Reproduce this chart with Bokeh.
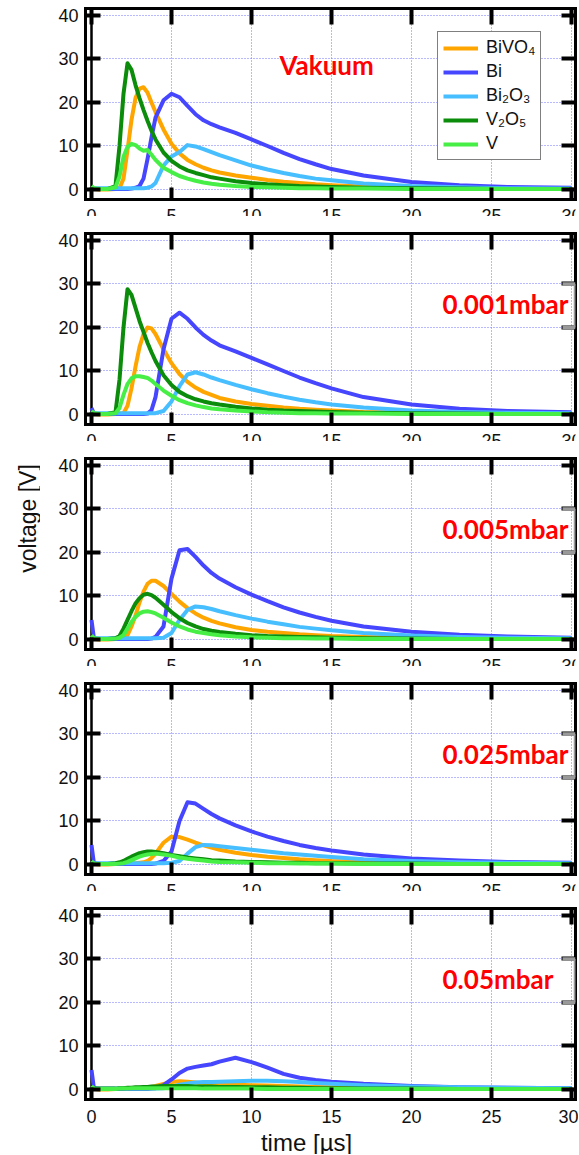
import math
from bokeh.plotting import figure
from bokeh.layouts import column, row
from bokeh.models import (Range1d, LinearAxis, FixedTicker, Span, Label,
                          Legend, LegendItem, Arrow)
from bokeh.core.properties import value
from bokeh.embed import file_html
from bokeh.resources import INLINE

# ---------------- data ----------------
T = [0, 0.15, 0.5, 1.0, 1.5, 1.75, 2.0, 2.25, 2.5, 2.75, 3.0, 3.25, 3.5, 3.75, 4.0,
     4.5, 5.0, 5.5, 6.0, 6.5, 7.0, 7.5, 8.0, 9, 10, 11, 12, 13, 14, 15, 17, 20, 23, 26, 30]

# Vakuum
BIVO4_VAK = [0.2, 0.1, 0.0, 0.0, 0.1, 0.3, 2.5, 9.0, 16.0, 21.0, 23.2, 23.5, 22.3, 20.0, 17.8,
             13.8, 10.5, 8.3, 6.8, 5.8, 5.0, 4.4, 3.9, 3.2, 2.7, 2.2, 1.8, 1.5, 1.2, 1.0, 0.7, 0.4, 0.3, 0.2, 0.1]
BI_VAK = [0.3, 0.2, 0.1, 0.1, 0.1, 0.1, 0.1, 0.1, 0.2, 0.4, 0.8, 2.5, 7.0, 12.0, 16.5,
          20.5, 22.0, 21.2, 19.2, 17.3, 15.9, 15.0, 14.3, 13.0, 11.5, 10.0, 8.4, 7.0, 5.8, 4.7, 3.2, 1.7, 1.0, 0.6, 0.4]
BI2O3_VAK = [0.3, 0.3, 0.3, 0.3, 0.3, 0.3, 0.3, 0.3, 0.3, 0.3, 0.3, 0.3, 0.4, 0.7, 1.5,
             5.5, 7.6, 8.6, 10.2, 9.9, 9.3, 8.6, 7.9, 6.7, 5.5, 4.6, 3.8, 3.1, 2.5, 2.1, 1.4, 0.8, 0.5, 0.3, 0.2]
V2O5_VAK = [0.1, 0.1, 0.1, 0.1, 0.8, 10.0, 22.0, 29.0, 27.5, 24.0, 21.0, 18.3, 15.8, 13.5, 11.5,
            8.5, 6.6, 5.3, 4.4, 3.8, 3.3, 2.8, 2.5, 1.9, 1.5, 1.2, 1.0, 0.8, 0.7, 0.6, 0.4, 0.3, 0.2, 0.1, 0.1]
V_VAK = [0.8, 0.3, 0.1, 0.1, 0.5, 3.0, 7.5, 9.8, 10.5, 10.2, 9.4, 8.9, 9.1, 8.0, 6.8,
         5.0, 4.0, 3.1, 2.5, 2.0, 1.6, 1.3, 1.1, 0.8, 0.6, 0.5, 0.4, 0.3, 0.3, 0.2, 0.2, 0.1, 0.1, 0.1, 0.1]

# 0.001 mbar
BIVO4_P001 = [0.2, 0.1, 0.0, 0.0, 0.1, 0.1, 0.3, 2.0, 6.0, 11.0, 15.5, 18.5, 20.0, 19.8, 18.5,
              15.0, 11.8, 9.3, 7.5, 6.2, 5.2, 4.5, 3.8, 3.0, 2.4, 2.0, 1.6, 1.3, 1.1, 0.9, 0.6, 0.4, 0.3, 0.2, 0.1]
BI_P001 = [1.5, 0.2, 0.1, 0.1, 0.1, 0.1, 0.1, 0.1, 0.1, 0.1, 0.1, 0.1, 0.2, 1.0, 4.0,
           15.0, 22.0, 23.4, 22.0, 20.0, 18.3, 17.0, 15.9, 14.5, 13.0, 11.5, 10.0, 8.5, 7.2, 6.0, 4.0, 2.3, 1.3, 0.8, 0.5]
BI2O3_P001 = [0.3, 0.3, 0.3, 0.3, 0.3, 0.3, 0.3, 0.3, 0.3, 0.3, 0.3, 0.3, 0.3, 0.3, 0.3,
              0.8, 3.0, 6.5, 9.2, 9.7, 9.2, 8.5, 7.9, 6.8, 5.8, 4.9, 4.1, 3.4, 2.8, 2.3, 1.6, 0.9, 0.6, 0.4, 0.3]
V2O5_P001 = [0.1, 0.1, 0.1, 0.1, 0.5, 8.0, 20.0, 28.8, 27.5, 24.5, 21.5, 19.0, 16.5, 14.3, 12.3,
             9.0, 6.8, 5.2, 4.2, 3.5, 3.0, 2.6, 2.3, 1.8, 1.4, 1.1, 0.9, 0.8, 0.7, 0.6, 0.4, 0.3, 0.2, 0.1, 0.1]
V_P001 = [0.8, 0.3, 0.1, 0.1, 0.3, 1.5, 4.5, 7.0, 8.3, 8.8, 8.8, 8.6, 8.4, 7.8, 7.0,
          5.5, 4.3, 3.3, 2.6, 2.1, 1.7, 1.4, 1.2, 0.9, 0.7, 0.5, 0.4, 0.3, 0.3, 0.2, 0.2, 0.1, 0.1, 0.1, 0.1]

# 0.005 mbar
BIVO4_P005 = [0.2, 0.1, 0.0, 0.0, 0.1, 0.1, 0.2, 1.0, 3.0, 5.5, 8.5, 11.0, 12.8, 13.5, 13.5,
              12.3, 10.5, 8.7, 7.2, 6.0, 5.0, 4.3, 3.7, 2.8, 2.2, 1.8, 1.5, 1.2, 1.0, 0.8, 0.6, 0.4, 0.3, 0.2, 0.1]
BI_P005 = [4.5, 0.3, 0.1, 0.1, 0.1, 0.1, 0.1, 0.1, 0.1, 0.1, 0.1, 0.1, 0.1, 0.2, 0.6,
           3.0, 14.0, 20.5, 20.8, 19.0, 17.0, 15.3, 14.0, 12.0, 10.3, 8.8, 7.4, 6.2, 5.2, 4.3, 3.0, 1.8, 1.1, 0.7, 0.4]
BI2O3_P005 = [0.3, 0.3, 0.3, 0.3, 0.3, 0.3, 0.3, 0.3, 0.3, 0.3, 0.3, 0.3, 0.3, 0.3, 0.3,
              0.4, 1.5, 4.5, 6.8, 7.6, 7.4, 7.0, 6.5, 5.6, 4.8, 4.1, 3.5, 2.9, 2.5, 2.1, 1.5, 0.9, 0.6, 0.4, 0.3]
V2O5_P005 = [0.3, 0.1, 0.1, 0.1, 0.3, 0.8, 2.5, 4.5, 6.5, 8.3, 9.5, 10.3, 10.5, 10.2, 9.6,
             8.0, 6.3, 4.9, 3.8, 3.0, 2.4, 2.0, 1.7, 1.3, 1.0, 0.8, 0.7, 0.6, 0.5, 0.4, 0.3, 0.2, 0.1, 0.1, 0.1]
V_P005 = [1.0, 0.3, 0.1, 0.1, 0.2, 0.4, 1.0, 2.5, 4.0, 5.2, 6.0, 6.4, 6.5, 6.3, 6.0,
          5.0, 3.9, 3.0, 2.3, 1.8, 1.5, 1.2, 1.0, 0.7, 0.5, 0.4, 0.3, 0.3, 0.2, 0.2, 0.1, 0.1, 0.1, 0.1, 0.1]

# 0.025 mbar
BIVO4_P025 = [0.2, 0.1, 0.0, 0.0, 0.1, 0.1, 0.1, 0.1, 0.2, 0.3, 0.4, 0.5, 0.8, 1.5, 2.5,
              5.0, 6.4, 6.3, 5.7, 5.0, 4.4, 3.9, 3.4, 2.7, 2.2, 1.8, 1.5, 1.2, 1.0, 0.8, 0.6, 0.4, 0.3, 0.2, 0.1]
BI_P025 = [4.5, 0.3, 0.1, 0.1, 0.1, 0.1, 0.1, 0.1, 0.1, 0.1, 0.1, 0.1, 0.1, 0.1, 0.2,
           0.8, 3.0, 10.0, 14.3, 14.0, 12.8, 11.6, 10.6, 9.0, 7.6, 6.4, 5.4, 4.5, 3.8, 3.2, 2.3, 1.4, 0.9, 0.6, 0.4]
BI2O3_P025 = [0.3, 0.3, 0.3, 0.3, 0.3, 0.3, 0.3, 0.3, 0.3, 0.3, 0.3, 0.3, 0.3, 0.3, 0.3,
              0.3, 0.4, 0.8, 2.5, 4.0, 4.5, 4.4, 4.2, 3.8, 3.4, 3.0, 2.6, 2.3, 2.0, 1.7, 1.2, 0.8, 0.5, 0.4, 0.3]
V2O5_P025 = [0.3, 0.1, 0.1, 0.1, 0.3, 0.5, 0.8, 1.3, 1.8, 2.2, 2.6, 2.8, 3.0, 3.0, 2.9,
             2.6, 2.2, 1.9, 1.6, 1.4, 1.2, 1.0, 0.9, 0.7, 0.6, 0.5, 0.4, 0.4, 0.3, 0.3, 0.2, 0.2, 0.1, 0.1, 0.1]
V_P025 = [0.8, 0.2, 0.1, 0.1, 0.1, 0.2, 0.3, 0.6, 1.0, 1.4, 1.8, 2.1, 2.3, 2.4, 2.5,
          2.3, 2.0, 1.6, 1.3, 1.1, 0.9, 0.7, 0.6, 0.5, 0.4, 0.3, 0.3, 0.2, 0.2, 0.2, 0.1, 0.1, 0.1, 0.1, 0.1]

# 0.05 mbar
BIVO4_P05 = [0.2, 0.1, 0.0, 0.0, 0.1, 0.1, 0.1, 0.1, 0.2, 0.2, 0.3, 0.4, 0.5, 0.6, 0.8,
             1.3, 1.7, 1.9, 1.8, 1.6, 1.4, 1.3, 1.2, 1.1, 1.0, 0.9, 0.8, 0.7, 0.6, 0.5, 0.4, 0.3, 0.2, 0.2, 0.1]
BI_P05 = [4.5, 0.3, 0.1, 0.1, 0.1, 0.1, 0.1, 0.1, 0.1, 0.1, 0.1, 0.1, 0.1, 0.2, 0.3,
          1.0, 2.3, 3.8, 4.8, 5.2, 5.5, 5.8, 6.4, 7.3, 6.3, 5.0, 3.6, 2.7, 2.2, 1.8, 1.3, 0.8, 0.5, 0.4, 0.3]
BI2O3_P05 = [0.2, 0.2, 0.2, 0.2, 0.2, 0.2, 0.2, 0.2, 0.2, 0.2, 0.2, 0.2, 0.2, 0.2, 0.2,
             0.3, 0.6, 1.1, 1.4, 1.6, 1.7, 1.75, 1.8, 1.9, 2.0, 2.0, 1.9, 1.7, 1.5, 1.3, 1.0, 0.7, 0.5, 0.4, 0.3]
V2O5_P05 = [0.5, 0.2, 0.2, 0.2, 0.2, 0.3, 0.3, 0.4, 0.4, 0.5, 0.5, 0.6, 0.6, 0.7, 0.7,
            0.8, 0.8, 0.8, 0.8, 0.7, 0.7, 0.7, 0.6, 0.6, 0.5, 0.5, 0.4, 0.4, 0.3, 0.3, 0.2, 0.2, 0.1, 0.1, 0.1]
V_P05 = [0.8, 0.2, 0.1, 0.1, 0.1, 0.2, 0.2, 0.2, 0.3, 0.3, 0.3, 0.3, 0.3, 0.3, 0.3,
         0.3, 0.3, 0.3, 0.3, 0.3, 0.2, 0.2, 0.2, 0.2, 0.2, 0.1, 0.1, 0.1, 0.1, 0.1, 0.1, 0.1, 0.1, 0.1, 0.1]

SERIES_NAMES = ["BiVO\u2084", "Bi", "Bi\u2082O\u2083", "V\u2082O\u2085", "V"]
SERIES_COLORS = ["#FFA500", "#4646FF", "#46BEFF", "#0B8C0B", "#46EE46"]
PANEL_LABELS = ["Vakuum", "0.001mbar", "0.005mbar", "0.025mbar", "0.05mbar"]
PANEL_DATA = [
    [BIVO4_VAK, BI_VAK, BI2O3_VAK, V2O5_VAK, V_VAK],
    [BIVO4_P001, BI_P001, BI2O3_P001, V2O5_P001, V_P001],
    [BIVO4_P005, BI_P005, BI2O3_P005, V2O5_P005, V_P005],
    [BIVO4_P025, BI_P025, BI2O3_P025, V2O5_P025, V_P025],
    [BIVO4_P05, BI_P05, BI2O3_P05, V2O5_P05, V_P05],
]
X_TICKS = [0, 5, 10, 15, 20, 25, 30]
Y_TICKS = [0, 10, 20, 30, 40]
X_LABEL = "time [\u00b5s]"
Y_LABEL = "voltage [V]"

# ---------------- layout ----------------
SIDE_W = 40            # strip on the left that carries the y label
W = 538                # width of the panels
BORDER_L = 45
BORDER_R = 3
FRAME_H = 191
STRIP_H = 14           # gap under each upper panel; its tick labels are cut at the bottom
LABEL_TOP = 6.6        # px from strip top to the top of the tick-label text box
XLABEL_H = 24
X_START, X_END = -0.375, 30.25
Y_START, Y_END = -2.3, 41.6
TICK_FONT = "Liberation Sans"
GRID_COLOR = "#7373FF"


def style_axis(ax, ticks, tick_in, labels):
    ax.ticker = FixedTicker(ticks=ticks)
    ax.axis_line_color = "black"
    ax.axis_line_width = 3
    ax.axis_line_cap = "square"
    ax.major_tick_in = tick_in
    ax.major_tick_out = 0
    ax.major_tick_line_color = "black"
    ax.major_tick_line_width = 4
    ax.minor_tick_line_color = None
    if labels:
        ax.major_label_text_font = TICK_FONT
        ax.major_label_text_font_size = "18px"
        ax.major_label_text_color = "#111111"
    else:
        ax.major_label_text_font_size = "1px"
        ax.major_label_text_color = None
        ax.major_label_standoff = 0


def bare_figure(width, height, x_range, y_range, left, right):
    f = figure(width=width, height=height, output_backend="svg", toolbar_location=None,
               x_range=x_range, y_range=y_range, x_axis_location=None,
               y_axis_location=None, min_border_left=left, min_border_right=right,
               min_border_top=0, min_border_bottom=0)
    f.outline_line_color = None
    f.background_fill_color = "white"
    f.border_fill_color = "white"
    f.grid.visible = False
    return f


children = []
total_h = 0
for i, series in enumerate(PANEL_DATA):
    last = i == len(PANEL_DATA) - 1
    top = 8 if i == 0 else 17
    bottom = 31 if last else 3
    p = figure(width=W, height=top + FRAME_H + bottom, output_backend="svg",
               toolbar_location=None,
               x_range=Range1d(X_START, X_END), y_range=Range1d(Y_START, Y_END),
               min_border_left=BORDER_L, min_border_right=BORDER_R,
               min_border_top=top, min_border_bottom=bottom)
    p.outline_line_color = None
    p.background_fill_color = "white"
    p.border_fill_color = "white"

    p.xgrid.ticker = FixedTicker(ticks=X_TICKS)
    p.ygrid.ticker = FixedTicker(ticks=Y_TICKS)
    for g in (p.xgrid[0], p.ygrid[0]):
        g.grid_line_color = GRID_COLOR
        g.grid_line_dash = "1 2"
        g.grid_line_width = 1

    style_axis(p.yaxis[0], Y_TICKS, 15, True)
    p.yaxis[0].major_label_standoff = 7
    style_axis(p.xaxis[0], X_TICKS, 12, last)
    if last:
        p.xaxis[0].major_label_standoff = 10
    top_ax = LinearAxis()
    style_axis(top_ax, X_TICKS, 16, False)
    p.add_layout(top_ax, "above")
    right_ax = LinearAxis()
    style_axis(right_ax, Y_TICKS, 14, False)
    p.add_layout(right_ax, "right")

    p.add_layout(Span(location=0, dimension="height", line_color="black",
                      line_width=2.5, level="underlay"))

    renderers = []
    for vals, color in zip(series, SERIES_COLORS):
        renderers.append(p.line(T, vals, line_color=color, line_width=4, line_join="round"))

    if i == 0:
        p.add_layout(Label(x=11.75, y=28.6, text=PANEL_LABELS[i], text_color="#FF0000",
                           text_font="Lato", text_font_style="bold",
                           text_font_size="26px", text_baseline="middle"))
        items = [LegendItem(label=n, renderers=[r]) for n, r in zip(SERIES_NAMES, renderers)]
        leg = Legend(items=items, location=(352, 39), margin=0, padding=5,
                     spacing=3, label_height=20, glyph_height=20, glyph_width=35,
                     label_standoff=8, label_text_font=TICK_FONT,
                     label_text_font_size="18px", label_text_color="#111111",
                     border_line_color="black", border_line_width=1.5,
                     background_fill_color="white", background_fill_alpha=1.0)
        p.add_layout(leg)
    else:
        p.add_layout(Label(x=21.94, y=25.3, text=PANEL_LABELS[i], text_color="#FF0000",
                           text_font="Lato", text_font_style="bold",
                           text_font_size="26px", text_baseline="middle"))
        for (xs, ys, xe, ye) in [(X_END, 20, X_END, 30), (29.44, 20, X_END, 20),
                                 (29.44, 30, X_END, 30)]:
            p.add_layout(Arrow(start=None, end=None, x_start=xs, y_start=ys,
                               x_end=xe, y_end=ye, line_color="#999999",
                               line_width=3.5, level="overlay"))
    children.append(p)
    total_h += top + FRAME_H + bottom

    if not last:
        # tick labels of this panel: only their upper part shows before the next panel
        s = bare_figure(W, STRIP_H, Range1d(X_START, X_END), Range1d(0, STRIP_H),
                        BORDER_L, BORDER_R)
        s.text(x=X_TICKS, y=[STRIP_H - LABEL_TOP] * len(X_TICKS),
               text=[str(v) for v in X_TICKS], text_align="center",
               text_baseline="top", text_font=value(TICK_FONT),
               text_font_size=value("18px"), text_color="#111111")
        children.append(s)
        total_h += STRIP_H

# x-axis title strip
xs_fig = bare_figure(W, XLABEL_H, Range1d(X_START, X_END), Range1d(0, XLABEL_H),
                     BORDER_L, BORDER_R)
xs_fig.text(x=[13.44], y=[XLABEL_H / 2], text=[X_LABEL], text_align="center",
            text_baseline="middle", text_font=value(TICK_FONT),
            text_font_size=value("24px"), text_color="#111111")
children.append(xs_fig)
total_h += XLABEL_H

# y-axis title strip on the left
ys_fig = bare_figure(SIDE_W, total_h, Range1d(0, SIDE_W), Range1d(0, total_h), 0, 0)
ys_fig.text(x=[27], y=[total_h - 518], text=[Y_LABEL], angle=math.pi / 2,
            text_align="center", text_baseline="middle", text_font=value(TICK_FONT),
            text_font_size=value("23px"), text_color="#111111")

layout = row(ys_fig, column(*children, spacing=0), spacing=0)
open("out.html", "w").write(file_html(layout, INLINE))
